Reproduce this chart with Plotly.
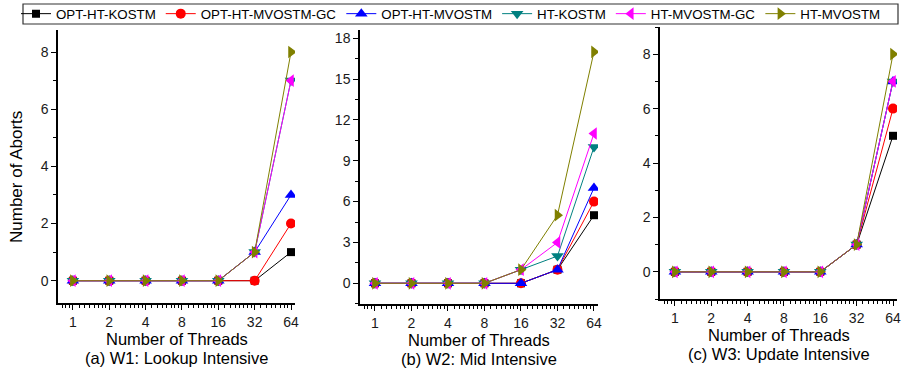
import math
import plotly.graph_objects as go

threads = [1, 2, 4, 8, 16, 32, 64]
tick_labels = ["1", "2", "4", "8", "16", "32", "64"]
series_names = ["OPT-HT-KOSTM", "OPT-HT-MVOSTM-GC", "OPT-HT-MVOSTM",
                "HT-KOSTM", "HT-MVOSTM-GC", "HT-MVOSTM"]

w1_opt_ht_kostm = [0, 0, 0, 0, 0, 0, 1]
w1_opt_ht_mvostm_gc = [0, 0, 0, 0, 0, 0, 2]
w1_opt_ht_mvostm = [0, 0, 0, 0, 0, 1, 3]
w1_ht_kostm = [0, 0, 0, 0, 0, 1, 7]
w1_ht_mvostm_gc = [0, 0, 0, 0, 0, 1, 7]
w1_ht_mvostm = [0, 0, 0, 0, 0, 1, 8]

w2_opt_ht_kostm = [0, 0, 0, 0, 0, 1, 5]
w2_opt_ht_mvostm_gc = [0, 0, 0, 0, 0, 1, 6]
w2_opt_ht_mvostm = [0, 0, 0, 0, 0, 1, 7]
w2_ht_kostm = [0, 0, 0, 0, 1, 2, 10]
w2_ht_mvostm_gc = [0, 0, 0, 0, 1, 3, 11]
w2_ht_mvostm = [0, 0, 0, 0, 1, 5, 17]

w3_opt_ht_kostm = [0, 0, 0, 0, 0, 1, 5]
w3_opt_ht_mvostm_gc = [0, 0, 0, 0, 0, 1, 6]
w3_opt_ht_mvostm = [0, 0, 0, 0, 0, 1, 7]
w3_ht_kostm = [0, 0, 0, 0, 0, 1, 7]
w3_ht_mvostm_gc = [0, 0, 0, 0, 0, 1, 7]
w3_ht_mvostm = [0, 0, 0, 0, 0, 1, 8]

panels = [
    [w1_opt_ht_kostm, w1_opt_ht_mvostm_gc, w1_opt_ht_mvostm, w1_ht_kostm, w1_ht_mvostm_gc, w1_ht_mvostm],
    [w2_opt_ht_kostm, w2_opt_ht_mvostm_gc, w2_opt_ht_mvostm, w2_ht_kostm, w2_ht_mvostm_gc, w2_ht_mvostm],
    [w3_opt_ht_kostm, w3_opt_ht_mvostm_gc, w3_opt_ht_mvostm, w3_ht_kostm, w3_ht_mvostm_gc, w3_ht_mvostm],
]
captions = ["(a) W1: Lookup Intensive", "(b) W2: Mid Intensive", "(c) W3: Update Intensive"]

colors = ["#000000", "#FF0000", "#0000FF", "#008080", "#FF00FF", "#808000"]
symbols = ["square", "circle", "triangle-up", "triangle-down", "triangle-left", "triangle-right"]
msizes = [8, 10, 11, 11, 11, 11]

W, H = 902, 373
FONT = "Liberation Sans, Arial, sans-serif"

# x axis is log base 2: positions are log2(threads)
xpos = [math.log2(t) for t in threads]

# pixel layout of plot areas: (left, right, top, bottom)
boxes = [(58, 295, 30, 303), (360, 598, 30, 304), (660, 897, 27, 299)]
yranges = [(-0.78, 8.77), (-1.52, 18.6), (-1.0, 9.0)]
ydticks = [2, 3, 2]
xrange_ = (-0.41, 6.11)

minor_x = []
for b in range(-1, 7):
    base = 2 ** b
    for k in range(1, 8):
        v = math.log2(base * (1 + k / 8))
        if xrange_[0] <= v <= xrange_[1]:
            minor_x.append(v)

fig = go.Figure()
for p in range(3):
    ax = "" if p == 0 else str(p + 1)
    for i in range(6):
        fig.add_trace(go.Scatter(
            x=xpos, y=panels[p][i], name=series_names[i],
            mode="lines+markers",
            line=dict(color=colors[i], width=1),
            marker=dict(symbol=symbols[i], size=msizes[i], color=colors[i]),
            showlegend=(p == 0), legendgroup=series_names[i],
            xaxis="x" + ax, yaxis="y" + ax,
        ))

layout = dict(
    width=W, height=H, margin=dict(l=0, r=0, t=0, b=0, autoexpand=False),
    paper_bgcolor="white", plot_bgcolor="white",
    font=dict(family=FONT, size=14, color="#1a1a1a"),
    showlegend=True,
    legend=dict(orientation="h", x=0.5, y=1 - 14 / H, xanchor="center", yanchor="middle",
                borderwidth=0, bgcolor="rgba(0,0,0,0)", font=dict(size=13.3, color="#000"),
                tracegroupgap=0, itemwidth=30),
    shapes=[dict(type="rect", xref="paper", yref="paper",
                 x0=23 / W, x1=898 / W, y0=1 - 24 / H, y1=1 - 4 / H,
                 line=dict(color="#333333", width=1.2), fillcolor="rgba(0,0,0,0)")],
)
annotations = []
for p in range(3):
    l, r, t, b = boxes[p]
    ax = "" if p == 0 else str(p + 1)
    layout["xaxis" + ax] = dict(
        domain=[l / W, r / W], anchor="y" + ax, type="linear",
        range=list(xrange_),
        tickmode="array", tickvals=xpos, ticktext=tick_labels,
        ticks="outside", ticklen=5, tickwidth=1, tickcolor="#000",
        showline=True, linecolor="#000", linewidth=1.5, showgrid=False, zeroline=False,
        minor=dict(tickmode="array", tickvals=minor_x, ticks="outside", ticklen=3,
                   tickcolor="#000", tickwidth=1, showgrid=False),
        tickfont=dict(size=14),
    )
    yr = yranges[p]
    layout["yaxis" + ax] = dict(
        domain=[(H - b) / H, (H - t) / H], anchor="x" + ax,
        range=list(yr), tickmode="linear", tick0=0, dtick=ydticks[p],
        ticks="outside", ticklen=5, tickwidth=1, tickcolor="#000",
        showline=True, linecolor="#000", linewidth=1.5, showgrid=False, zeroline=False,
        minor=dict(dtick=ydticks[p] / 2, tick0=0, ticks="outside", ticklen=3,
                   tickcolor="#000", tickwidth=1, showgrid=False),
        tickfont=dict(size=14),
    )
    cx = (l + r) / 2 / W
    annotations.append(dict(text="Number of Threads", x=cx, y=1 - (b + 36) / H,
                            xref="paper", yref="paper", showarrow=False,
                            font=dict(size=16.5, color="#000"), xanchor="center", yanchor="middle"))
    annotations.append(dict(text=captions[p], x=cx, y=1 - (b + 55) / H,
                            xref="paper", yref="paper", showarrow=False,
                            font=dict(size=16.5, color="#000"), xanchor="center", yanchor="middle"))
annotations.append(dict(text="Number of Aborts", x=16 / W, y=1 - 177 / H, textangle=-90,
                        xref="paper", yref="paper", showarrow=False,
                        font=dict(size=17, color="#000"), xanchor="center", yanchor="middle"))
layout["annotations"] = annotations
fig.update_layout(**layout)
fig.write_html("out.html")
